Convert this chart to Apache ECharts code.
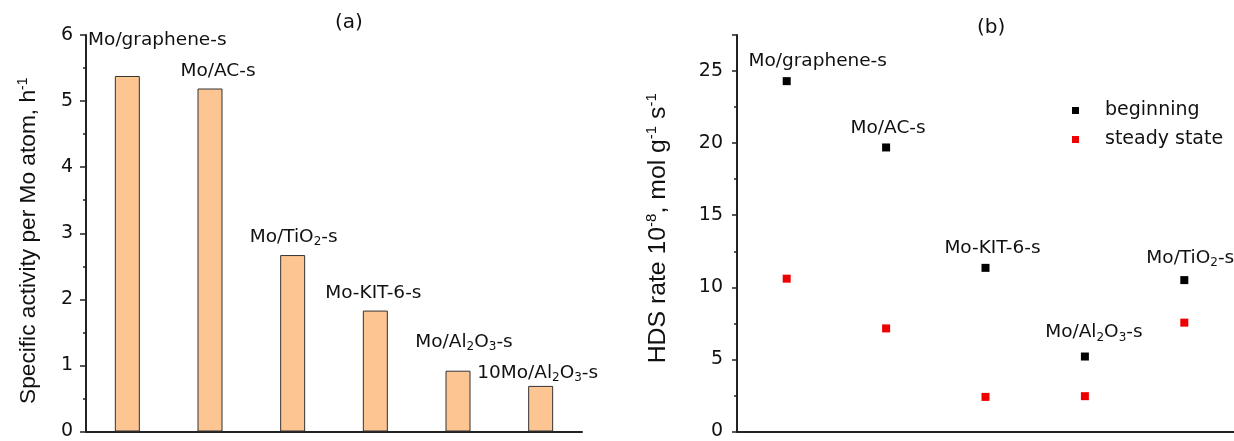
<!DOCTYPE html>
<html>
<head>
<meta charset="utf-8">
<script src="https://cdn.jsdelivr.net/npm/echarts@6/dist/echarts.min.js"></script>
<style>html,body{margin:0;padding:0;background:#fff}#c{width:1234px;height:441px}</style>
</head>
<body>
<div id="c"></div>
<script>
// ---- data (a) ----
const catsA = ['Mo/graphene-s', 'Mo/AC-s', 'Mo/TiO2-s', 'Mo-KIT-6-s', 'Mo/Al2O3-s', '10Mo/Al2O3-s'];
const activityA = [5.38, 5.19, 2.67, 1.83, 0.92, 0.69];
const ticksA = [0, 1, 2, 3, 4, 5, 6];
// ---- data (b) ----
const catsB = ['Mo/graphene-s', 'Mo/AC-s', 'Mo-KIT-6-s', 'Mo/Al2O3-s', 'Mo/TiO2-s'];
const beginningB = [24.3, 19.7, 11.35, 5.2, 10.5];
const steadyB = [10.6, 7.15, 2.4, 2.45, 7.55];
const ticksB = [0, 5, 10, 15, 20, 25];

// ---- styling / layout ----
const FONT = 'DejaVu Sans';
const NAMEFONT = 'Liberation Sans';
const TXT = '#111';
const AX = '#222';
const labelOffA = [[30, -20], [8, -1], [1, -2], [-2, -1], [6, -13], [-3, 3]];
const labelOffB = [[31, 0], [2, 1], [7, 0], [9, -4], [6, -2]];

function chem(s) { return s.replace(/([A-Za-z])(\d)/g, '$1{sub|$2}'); }
const subRich = { sub: { fontSize: 12, lineHeight: 13, verticalAlign: 'bottom', fontFamily: FONT, color: TXT } };
function supRich(size) {
  return { sup: { fontSize: Math.round(size * 0.62), lineHeight: Math.round(size * 0.62), verticalAlign: 'top', fontFamily: NAMEFONT, color: TXT } };
}

const chart = echarts.init(document.getElementById('c'), null, { renderer: 'canvas' });

const yCommon = {
  type: 'value', min: 0,
  axisLine: { show: true, lineStyle: { color: AX, width: 2 } },
  axisTick: { show: true, inside: false, length: 6, lineStyle: { color: AX, width: 1.5 } },
  splitLine: { show: false },
  axisLabel: { fontFamily: FONT, fontSize: 19, color: TXT, margin: 13 },
  nameLocation: 'middle'
};
const xCommon = {
  type: 'category', boundaryGap: true,
  axisLine: { show: true, lineStyle: { color: AX, width: 2 } },
  axisTick: { show: false }, axisLabel: { show: false }, splitLine: { show: false }
};

const option = {
  animation: false,
  backgroundColor: '#fff',
  title: [
    { text: '(a)', left: 330, top: 8, textStyle: { fontFamily: FONT, fontSize: 20, fontWeight: 'normal', color: TXT } },
    { text: '(b)', left: 972, top: 13, textStyle: { fontFamily: FONT, fontSize: 20, fontWeight: 'normal', color: TXT } }
  ],
  legend: {
    orient: 'vertical', left: 1067, top: 96, itemWidth: 7, itemHeight: 7, itemGap: 10,
    icon: 'rect',
    textStyle: { fontFamily: FONT, fontSize: 19, color: TXT, padding: [0, 0, 0, 21] },
    data: ['beginning', 'steady state']
  },
  grid: [
    { left: 86, top: 35, width: 496, height: 400 },
    { left: 737, top: 35, width: 497, height: 400 }
  ],
  xAxis: [
    Object.assign({}, xCommon, { gridIndex: 0, data: catsA }),
    Object.assign({}, xCommon, { gridIndex: 1, data: catsB })
  ],
  yAxis: [
    Object.assign({}, yCommon, {
      gridIndex: 0, max: ticksA[ticksA.length - 1], interval: 1,
      minorTick: { show: true, splitNumber: 2, length: 3, lineStyle: { color: AX, width: 1.5 } },
      name: 'Specific activity per Mo atom, h{sup|-1}', nameGap: 44,
      nameTextStyle: { fontFamily: NAMEFONT, fontSize: 22.7, color: TXT, lineHeight: 26, padding: [0, 15, 0, 0], rich: supRich(22.7) }
    }),
    Object.assign({}, yCommon, {
      gridIndex: 1, max: 27.5, interval: 5,
      axisTick: { show: true, length: 5, lineStyle: { color: AX, width: 1.5 } },
      axisLabel: { fontFamily: FONT, fontSize: 19, color: TXT, margin: 14,
        formatter: v => (ticksB.indexOf(v) >= 0 ? String(v) : '') },
      name: 'HDS rate 10{sup|-8}, mol g{sup|-1} s{sup|-1}', nameGap: 65,
      nameTextStyle: { fontFamily: NAMEFONT, fontSize: 24.8, color: TXT, lineHeight: 28, padding: [0, 0, 0, 10], rich: supRich(24.8) }
    }),
    {
      type: 'value', gridIndex: 1, min: 0, max: 27.5, interval: 2.5, position: 'left',
      axisLine: { show: false }, axisLabel: { show: false }, splitLine: { show: false },
      axisTick: { show: true, length: 3, lineStyle: { color: AX, width: 1.5 } }
    }
  ],
  series: [
    {
      type: 'bar', xAxisIndex: 0, yAxisIndex: 0, barWidth: 25,
      itemStyle: { color: '#fdc592', borderColor: '#333', borderWidth: 1 },
      data: activityA.map((v, i) => ({
        value: v,
        label: { offset: labelOffA[i] }
      })),
      label: {
        show: true, position: 'top', distance: 5,
        fontFamily: FONT, fontSize: 18.5, color: TXT, lineHeight: 22, rich: subRich,
        formatter: p => chem(catsA[p.dataIndex])
      }
    },
    {
      name: 'beginning', type: 'scatter', xAxisIndex: 1, yAxisIndex: 1,
      symbol: 'rect', symbolSize: 8, itemStyle: { color: '#000', opacity: 1 },
      data: beginningB.map((v, i) => ({ value: v, label: { offset: labelOffB[i] } })),
      label: {
        show: true, position: 'top', distance: 5,
        fontFamily: FONT, fontSize: 18.5, color: TXT, lineHeight: 22, rich: subRich,
        formatter: p => chem(catsB[p.dataIndex])
      }
    },
    {
      name: 'steady state', type: 'scatter', xAxisIndex: 1, yAxisIndex: 1,
      symbol: 'rect', symbolSize: 8, itemStyle: { color: '#ee0000', opacity: 1 },
      data: steadyB
    }
  ]
};
chart.setOption(option);
</script>
</body>
</html>
